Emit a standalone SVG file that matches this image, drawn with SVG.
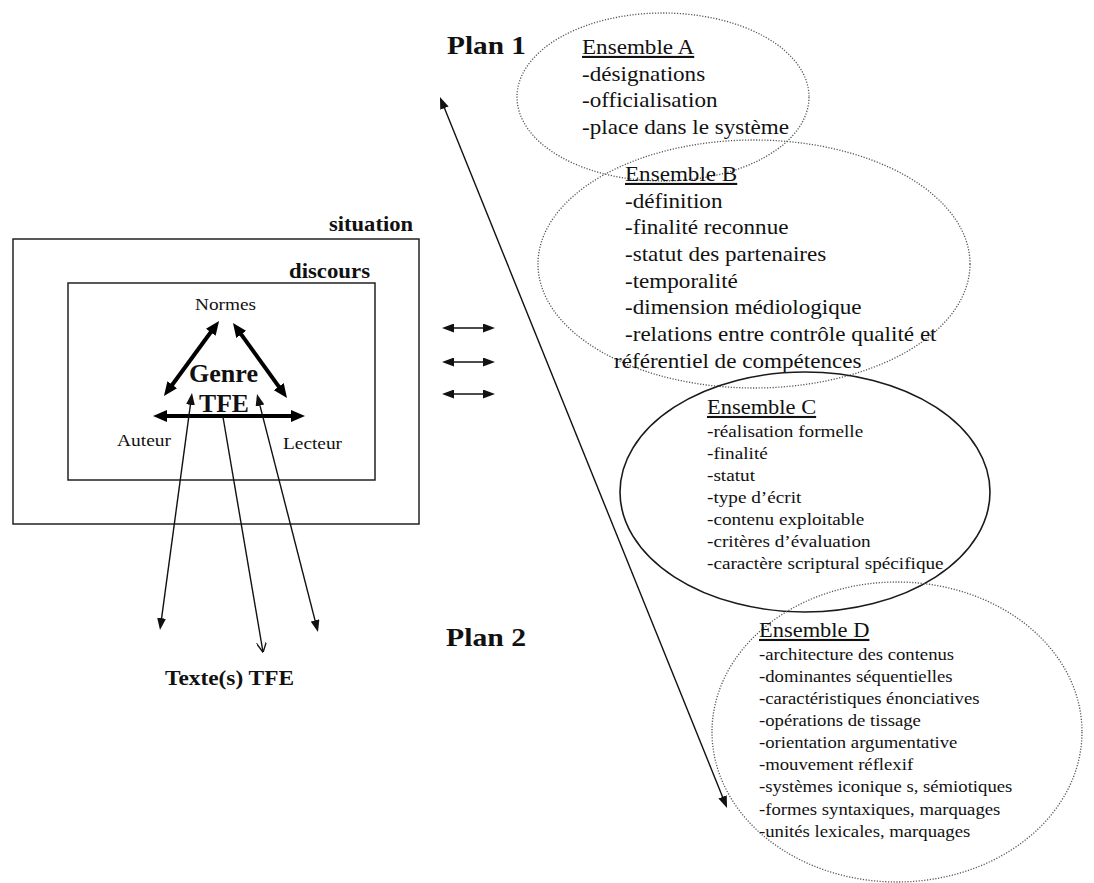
<svg xmlns="http://www.w3.org/2000/svg" width="1094" height="883" viewBox="0 0 1094 883">
<style>
  .b { font-weight: bold; }
  .dot { fill: none; stroke: #555; stroke-width: 1.3; stroke-dasharray: 1.2 1.6; }
  .sol { fill: none; stroke: #1a1a1a; stroke-width: 1.6; }
  .box { fill: none; stroke: #222; stroke-width: 1.5; }
  .thick { stroke: #000; stroke-width: 4; fill: none; marker-start: url(#hk); marker-end: url(#hk); }
  .thin { stroke: #111; stroke-width: 1.4; fill: none; marker-start: url(#hn); marker-end: url(#hn); }
</style>
<defs>
  <marker id="hk" markerUnits="userSpaceOnUse" viewBox="0 0 14 12" markerWidth="14" markerHeight="12" refX="8" refY="6" orient="auto-start-reverse">
    <path d="M0,0 L14,6 L0,12 z" fill="#000"/>
  </marker>
  <marker id="hn" markerUnits="userSpaceOnUse" viewBox="0 0 12 9" markerWidth="12" markerHeight="9" refX="6" refY="4.5" orient="auto-start-reverse">
    <path d="M0,0 L12,4.5 L0,9 z" fill="#111"/>
  </marker>
  <marker id="ho" markerUnits="userSpaceOnUse" viewBox="0 0 10 10" markerWidth="10" markerHeight="10" refX="9.5" refY="5" orient="auto">
    <path d="M0,0 L10,5 L0,10" fill="none" stroke="#111" stroke-width="1.3"/>
  </marker>
</defs>
<rect width="1094" height="883" fill="#fff"/>

<g font-family="Liberation Serif, Times New Roman, serif" fill="#111">
<g id="situation">
  <rect class="box" x="13" y="239" width="406" height="285"/>
  <text class="b" x="329" y="231" font-size="21" textLength="84" lengthAdjust="spacingAndGlyphs">situation</text>
</g>
<g id="discours">
  <rect class="box" x="68" y="283" width="307" height="197"/>
  <text class="b" x="289" y="278" font-size="21" textLength="81" lengthAdjust="spacingAndGlyphs">discours</text>
</g>
<g id="normes">
  <text x="195" y="310" font-size="17" textLength="61" lengthAdjust="spacingAndGlyphs">Normes</text>
</g>
<g id="genre">
  <text class="b" x="189" y="382" font-size="25" textLength="69" lengthAdjust="spacingAndGlyphs">Genre</text>
  <text class="b" x="199" y="412" font-size="25" textLength="50" lengthAdjust="spacingAndGlyphs">TFE</text>
</g>
<g id="auteur">
  <text x="117" y="446" font-size="17" textLength="54" lengthAdjust="spacingAndGlyphs">Auteur</text>
</g>
<g id="lecteur">
  <text x="283" y="449" font-size="17" textLength="59" lengthAdjust="spacingAndGlyphs">Lecteur</text>
</g>
<g id="textes">
  <text class="b" x="165" y="685" font-size="22" textLength="129" lengthAdjust="spacingAndGlyphs">Texte(s) TFE</text>
</g>
<g id="plan1">
  <text class="b" x="447" y="54" font-size="26" textLength="79" lengthAdjust="spacingAndGlyphs">Plan 1</text>
</g>
<g id="plan2">
  <text class="b" x="446" y="646" font-size="26" textLength="80" lengthAdjust="spacingAndGlyphs">Plan 2</text>
</g>

<g id="ensembleA">
  <ellipse class="dot" cx="663" cy="97" rx="146" ry="84"/>
  <g transform="translate(582,0) scale(1.1,1)" font-size="21">
    <text x="0" y="54" text-decoration="underline">Ensemble A</text>
    <text x="0" y="81">-désignations</text>
    <text x="0" y="107.5">-officialisation</text>
    <text x="0" y="134">-place dans le système</text>
  </g>
</g>
<g id="ensembleB">
  <ellipse class="dot" cx="754" cy="264" rx="216" ry="124"/>
  <g transform="translate(625,0) scale(1.1,1)" font-size="21">
    <text x="0" y="181" text-decoration="underline">Ensemble B</text>
    <text x="0" y="207.7">-définition</text>
    <text x="0" y="234.4">-finalité reconnue</text>
    <text x="0" y="261">-statut des partenaires</text>
    <text x="0" y="287.8">-temporalité</text>
    <text x="0" y="314.5">-dimension médiologique</text>
    <text x="0" y="341.2">-relations entre contrôle qualité et</text>
    <text x="-10" y="368">référentiel de compétences</text>
  </g>
</g>
<g id="ensembleC">
  <ellipse class="sol" cx="805" cy="492" rx="185" ry="120"/>
  <g transform="translate(707,0) scale(1.07,1)" font-size="21">
    <text x="0" y="414" text-decoration="underline">Ensemble C</text>
  </g>
  <g transform="translate(707,0) scale(1.13,1)" font-size="17">
    <text x="0" y="437">-réalisation formelle</text>
    <text x="0" y="459">-finalité</text>
    <text x="0" y="481">-statut</text>
    <text x="0" y="503">-type d’écrit</text>
    <text x="0" y="525">-contenu exploitable</text>
    <text x="0" y="547">-critères d’évaluation</text>
    <text x="0" y="569">-caractère scriptural spécifique</text>
  </g>
</g>
<g id="ensembleD">
  <ellipse class="dot" cx="897" cy="732" rx="185" ry="150"/>
  <g transform="translate(759,0) scale(1.07,1)" font-size="21">
    <text x="0" y="637" text-decoration="underline">Ensemble D</text>
  </g>
  <g transform="translate(759,0) scale(1.1,1)" font-size="17">
    <text x="0" y="660">-architecture des contenus</text>
    <text x="0" y="682">-dominantes séquentielles</text>
    <text x="0" y="704">-caractéristiques énonciatives</text>
    <text x="0" y="726">-opérations de tissage</text>
    <text x="0" y="748">-orientation argumentative</text>
    <text x="0" y="770">-mouvement réflexif</text>
    <text x="0" y="792">-systèmes iconique s, sémiotiques</text>
    <text x="0" y="815">-formes syntaxiques, marquages</text>
    <text x="0" y="837">-unités lexicales, marquages</text>
  </g>
</g>
</g>

<g id="connectors">
  <line class="thick" x1="215.5" y1="325.8" x2="167.5" y2="391.2"/>
  <line class="thick" x1="236.5" y1="327.9" x2="283.5" y2="393.1"/>
  <line class="thick" x1="159" y1="416" x2="299" y2="416"/>
  <line class="thin" x1="191.2" y1="398.9" x2="160.8" y2="624.1"/>
  <line class="thin" x1="258.5" y1="399.8" x2="316.5" y2="626.2"/>
  <line x1="223" y1="417" x2="263" y2="652" stroke="#111" stroke-width="1.4" marker-end="url(#ho)"/>
  <line class="thin" x1="442.2" y1="102.6" x2="724.8" y2="802.4"/>
  <line class="thin" x1="448" y1="328" x2="489" y2="328"/>
  <line class="thin" x1="448" y1="362" x2="489" y2="362"/>
  <line class="thin" x1="448" y1="394" x2="489" y2="394"/>
</g>
</svg>
